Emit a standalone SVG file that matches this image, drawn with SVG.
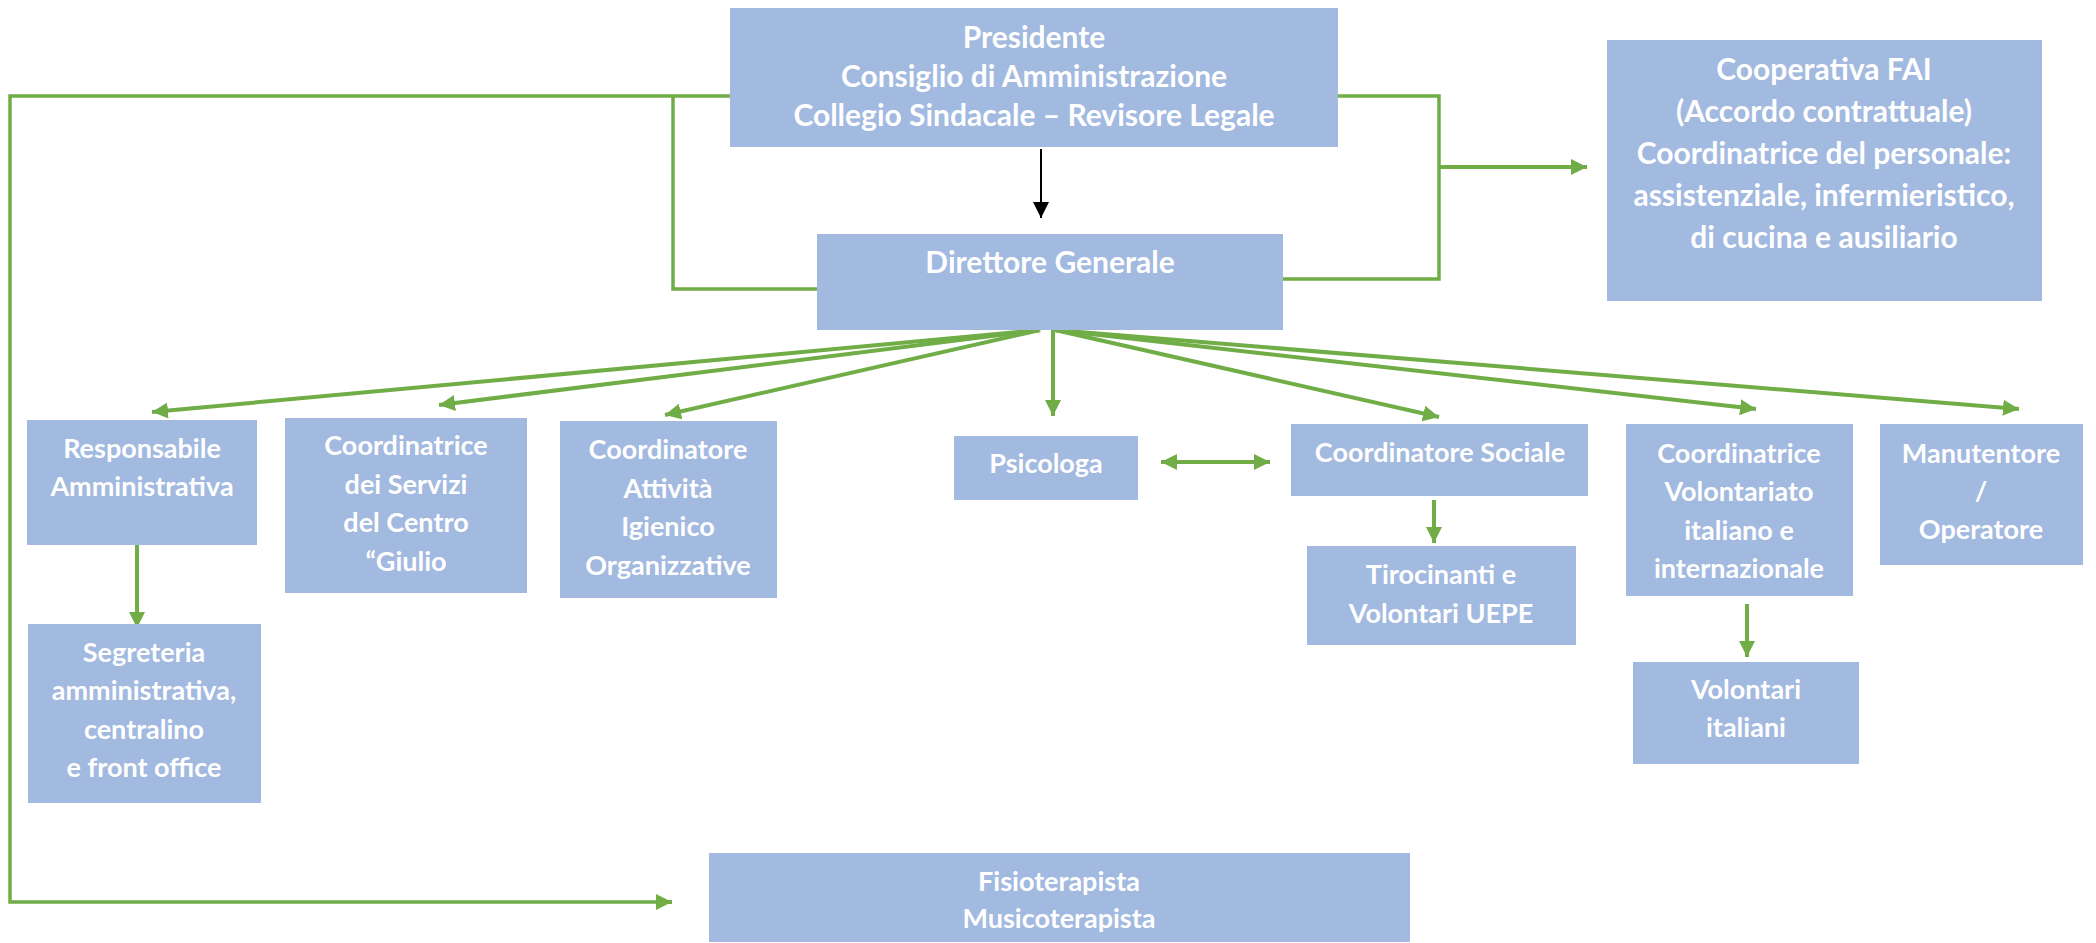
<svg xmlns="http://www.w3.org/2000/svg" width="2096" height="943" viewBox="0 0 2096 943">
  <defs>
    <marker id="ga" viewBox="0 0 10 10" refX="10" refY="5" markerWidth="4" markerHeight="4" markerUnits="strokeWidth" orient="auto-start-reverse">
      <path d="M0,0 L10,5 L0,10 Z" fill="#70AD47"/>
    </marker>
    <marker id="ba" viewBox="0 0 10 10" refX="10" refY="5" markerWidth="8" markerHeight="8" markerUnits="strokeWidth" orient="auto">
      <path d="M0,0 L10,5 L0,10 Z" fill="#000"/>
    </marker>
  </defs>
  <style>
    .box { fill: #A2B9E0; }
    .t { font-family: Lato, "Liberation Sans", sans-serif; font-weight: bold; font-size: 27px; fill: #FFFFFF; text-anchor: middle; }
    .big { font-size: 30px; }
    .ln { fill: none; stroke: #70AD47; stroke-width: 3.5; }
    .ar { fill: none; stroke: #70AD47; stroke-width: 4; marker-end: url(#ga); }
  </style>
  <rect width="2096" height="943" fill="#FFFFFF"/>

  <g id="connectors">
    <path class="ln" d="M730,96 H10 V902 H656"/>
    <path d="M656,902 H672" stroke="#70AD47" stroke-width="4" fill="none" marker-end="url(#ga)"/>
    <path class="ln" d="M673,96 V289 H817"/>
    <path class="ln" d="M1338,96 H1439 V279 H1283"/>
    <path class="ar" d="M1439,167 H1587"/>
    <path d="M1041,149 V218" stroke="#000" stroke-width="2" fill="none" marker-end="url(#ba)"/>
    <path class="ar" d="M1040,330 L152,412"/>
    <path class="ar" d="M1040,330 L439,405"/>
    <path class="ar" d="M1040,330 L665,415"/>
    <path class="ar" d="M1053,330 V416"/>
    <path class="ar" d="M1055,330 L1439,417"/>
    <path class="ar" d="M1055,330 L1756,409"/>
    <path class="ar" d="M1055,330 L2019,409"/>
    <path class="ar" d="M137,545 V628"/>
    <path class="ar" d="M1434,500 V543"/>
    <path class="ar" d="M1747,604 V657"/>
    <path class="ar" d="M1161,462 H1270" marker-start="url(#ga)"/>
  </g>

  <g id="presidente">
    <rect class="box" x="730" y="8" width="608" height="139"/>
    <text class="t big" x="1034" y="48">Presidente</text>
    <text class="t big" x="1034" y="87">Consiglio di Amministrazione</text>
    <text class="t big" x="1034" y="126">Collegio Sindacale – Revisore Legale</text>
  </g>
  <g id="direttore">
    <rect class="box" x="817" y="234" width="466" height="96"/>
    <text class="t big" x="1050" y="273">Direttore Generale</text>
  </g>
  <g id="cooperativa">
    <rect class="box" x="1607" y="40" width="435" height="261"/>
    <text class="t big" x="1824" y="80">Cooperativa FAI</text>
    <text class="t big" x="1824" y="122">(Accordo contrattuale)</text>
    <text class="t big" x="1824" y="164">Coordinatrice del personale:</text>
    <text class="t big" x="1824" y="206">assistenziale, infermieristico,</text>
    <text class="t big" x="1824" y="248">di cucina e ausiliario</text>
  </g>
  <g id="responsabile">
    <rect class="box" x="27" y="420" width="230" height="125"/>
    <text class="t" x="142" y="458">Responsabile</text>
    <text class="t" x="142" y="496">Amministrativa</text>
  </g>
  <g id="coord-servizi">
    <rect class="box" x="285" y="418" width="242" height="175"/>
    <text class="t" x="406" y="455">Coordinatrice</text>
    <text class="t" x="406" y="494">dei Servizi</text>
    <text class="t" x="406" y="532">del Centro</text>
    <text class="t" x="406" y="571">“Giulio</text>
  </g>
  <g id="coord-attivita">
    <rect class="box" x="560" y="421" width="217" height="177"/>
    <text class="t" x="668" y="459">Coordinatore</text>
    <text class="t" x="668" y="498">Attività</text>
    <text class="t" x="668" y="536">Igienico</text>
    <text class="t" x="668" y="575">Organizzative</text>
  </g>
  <g id="psicologa">
    <rect class="box" x="954" y="436" width="184" height="64"/>
    <text class="t" x="1046" y="473">Psicologa</text>
  </g>
  <g id="segreteria">
    <rect class="box" x="28" y="624" width="233" height="179"/>
    <text class="t" x="144" y="662">Segreteria</text>
    <text class="t" x="144" y="700">amministrativa,</text>
    <text class="t" x="144" y="739">centralino</text>
    <text class="t" x="144" y="777">e front office</text>
  </g>
  <g id="coord-sociale">
    <rect class="box" x="1291" y="424" width="297" height="72"/>
    <text class="t" x="1440" y="462">Coordinatore Sociale</text>
  </g>
  <g id="tirocinanti">
    <rect class="box" x="1307" y="546" width="269" height="99"/>
    <text class="t" x="1441" y="584">Tirocinanti e</text>
    <text class="t" x="1441" y="623">Volontari UEPE</text>
  </g>
  <g id="coord-volontariato">
    <rect class="box" x="1626" y="424" width="227" height="172"/>
    <text class="t" x="1739" y="463">Coordinatrice</text>
    <text class="t" x="1739" y="501">Volontariato</text>
    <text class="t" x="1739" y="540">italiano e</text>
    <text class="t" x="1739" y="578">internazionale</text>
  </g>
  <g id="manutentore">
    <rect class="box" x="1880" y="424" width="203" height="141"/>
    <text class="t" x="1981" y="463">Manutentore</text>
    <text class="t" x="1981" y="501">/</text>
    <text class="t" x="1981" y="539">Operatore</text>
  </g>
  <g id="volontari-italiani">
    <rect class="box" x="1633" y="662" width="226" height="102"/>
    <text class="t" x="1746" y="699">Volontari</text>
    <text class="t" x="1746" y="737">italiani</text>
  </g>
  <g id="fisioterapista">
    <rect class="box" x="709" y="853" width="701" height="89"/>
    <text class="t" x="1059" y="891">Fisioterapista</text>
    <text class="t" x="1059" y="928">Musicoterapista</text>
  </g>
</svg>
